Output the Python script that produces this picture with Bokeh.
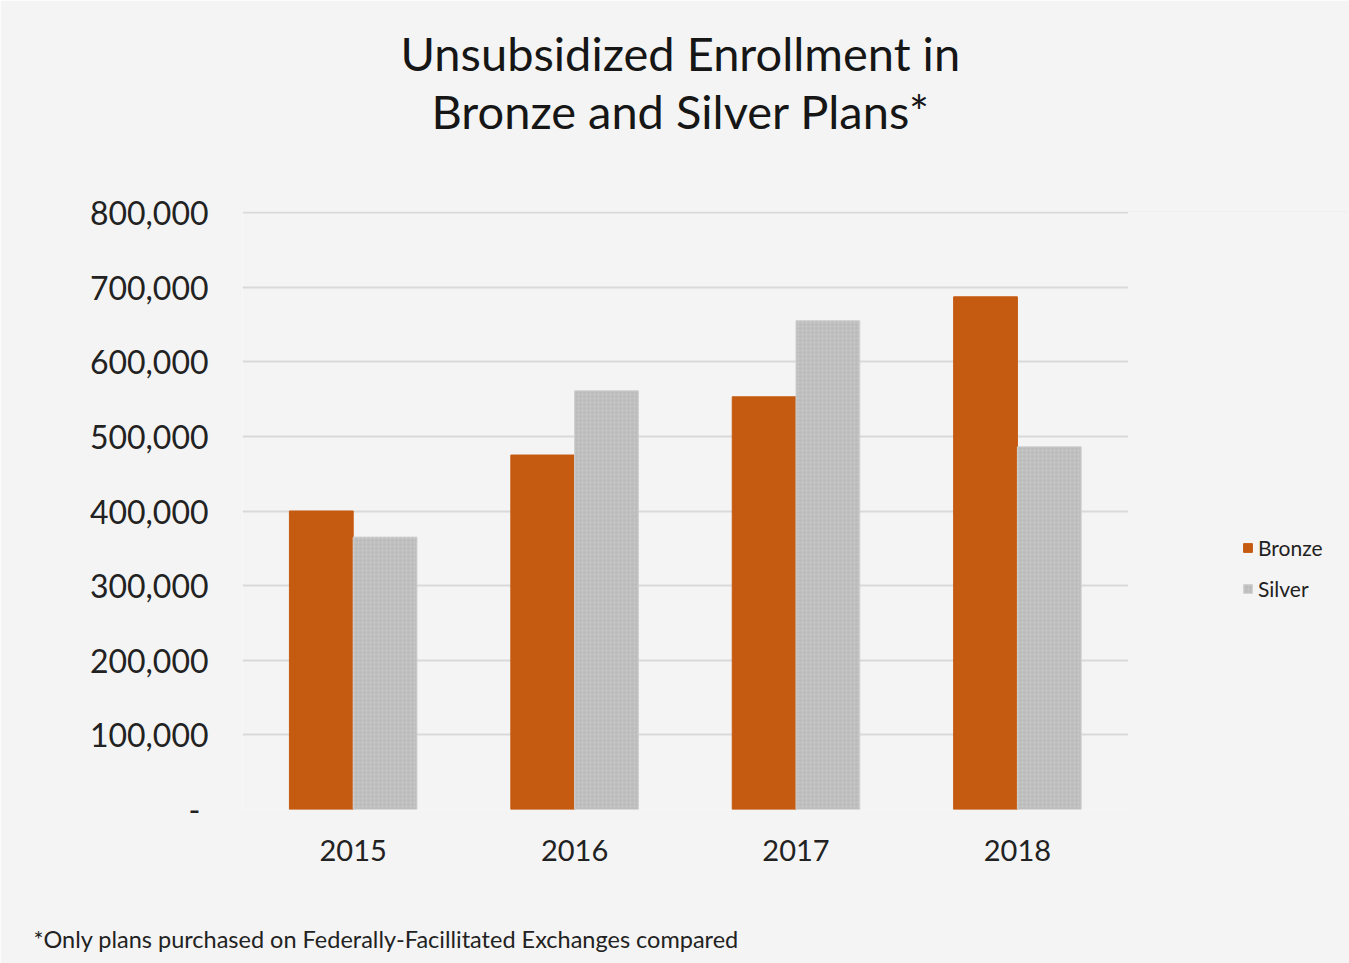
from bokeh.plotting import figure
from bokeh.models import (ColumnDataSource, FixedTicker, NumeralTickFormatter, Title,
                          Legend, LegendItem, FactorRange, BoxAnnotation)
from bokeh.transform import dodge
from bokeh.embed import file_html
from bokeh.resources import INLINE

years = ["2015", "2016", "2017", "2018"]
bronze = [400000, 475000, 553000, 687000]
silver = [365000, 561000, 655000, 486000]
y_ticks = [0, 100000, 200000, 300000, 400000, 500000, 600000, 700000, 800000]

FONT = "Lato"
BG = "#f4f4f4"

src = ColumnDataSource(dict(year=years, bronze=bronze, silver=silver))

# an extra empty factor on the right leaves room for the legend
p = figure(x_range=FactorRange(*years, " ", range_padding=0), y_range=(0, 801340),
           width=1349, height=963, output_backend="svg", toolbar_location=None,
           min_border_left=242, min_border_right=0, min_border_top=211, min_border_bottom=154)
p.background_fill_color = BG
p.border_fill_color = BG
p.outline_line_color = None

rb = p.vbar(x=dodge("year", -0.144, range=p.x_range), top="bronze", width=0.288, source=src,
            fill_color="#c55a11", line_color="#c55a11", line_width=1)
rs = p.vbar(x=dodge("year", 0.144, range=p.x_range), top="silver", width=0.288, source=src,
            fill_color="#bdbdbd", line_color="#d0d0d0", line_width=1,
            hatch_pattern="dot", hatch_color="#d6d6d6", hatch_scale=4, hatch_alpha=0.6)

p.xgrid.grid_line_color = None
p.ygrid.grid_line_color = "#d9d9d9"
p.ygrid.grid_line_width = 2

p.yaxis.ticker = FixedTicker(ticks=y_ticks)
p.yaxis.formatter = NumeralTickFormatter(format="0,0")
p.yaxis.major_label_overrides = {0: "-\u00a0"}
for ax in (p.xaxis[0], p.yaxis[0]):
    ax.axis_line_color = None
    ax.major_tick_line_color = None
    ax.minor_tick_line_color = None
    ax.major_label_text_font = FONT
    ax.major_label_text_color = "#222222"
p.yaxis.major_label_text_font_size = "32px"
p.xaxis.major_label_text_font_size = "29px"
p.yaxis.major_label_standoff = 28
p.xaxis.major_label_standoff = 16

# hide gridlines in the legend area
p.add_layout(BoxAnnotation(left=4, fill_color=BG, fill_alpha=1, line_color=None))

def spacer(gap):
    return Title(text="\u00a0", text_font_size="1px", standoff=gap)

# Titles (first added sits nearest the plot)
p.add_layout(spacer(70), "above")
p.add_layout(Title(text="Bronze and Silver Plans*", align="left", offset=189, text_font=FONT,
                   text_font_size="47px", text_font_style="normal", text_color="#161616",
                   standoff=0), "above")
p.add_layout(Title(text="Unsubsidized Enrollment in", align="left", offset=158, text_font=FONT,
                   text_font_size="47px", text_font_style="normal", text_color="#161616",
                   standoff=0), "above")

# Footnote
p.add_layout(spacer(50), "below")
p.add_layout(Title(text="*Only plans purchased on Federally-Facillitated Exchanges compared",
                   align="left", offset=-209, text_font=FONT, text_font_size="23.5px",
                   text_font_style="normal", text_color="#222222", standoff=0), "below")

legend = Legend(items=[LegendItem(label="Bronze", renderers=[rb]),
                       LegendItem(label="Silver", renderers=[rs])],
                location=(1000, 208), orientation="vertical",
                padding=0, margin=0, spacing=16,
                glyph_width=11, glyph_height=11, label_height=20,
                label_standoff=5,
                label_text_font=FONT, label_text_font_size="21px",
                label_text_color="#222222",
                border_line_color=None, background_fill_alpha=0)
p.add_layout(legend)

open("out.html", "w").write(file_html(p, INLINE))
